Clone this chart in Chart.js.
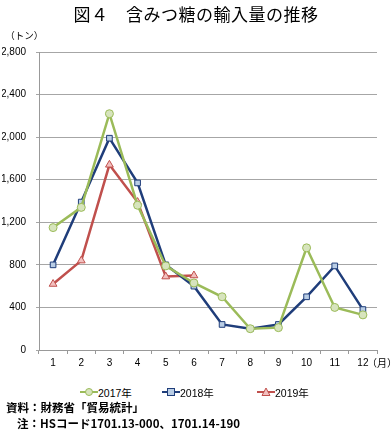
<!DOCTYPE html>
<html>
<head>
<meta charset="utf-8">
<script src="https://cdn.jsdelivr.net/npm/chart.js@4"></script>
<style>
  body { margin: 0; background: #fff; }
  #wrap { position: relative; width: 392px; height: 430px; font-family: "Noto Sans CJK JP", sans-serif; color: #000; }
  #chartBox { position: absolute; left: 0; top: 0; width: 392px; height: 380px; }
  .txt { position: absolute; white-space: nowrap; }
  #title { left: 0; width: 392px; top: 1px; text-align: center; font-size: 17px; font-weight: 400; letter-spacing: 0.5px; }
  #unit { left: 10px; top: 28px; font-size: 9.5px; font-feature-settings: "halt"; }
  #month { left: 372px; top: 355px; font-size: 10px; font-feature-settings: "halt"; }
  #legend { left: 0; top: 384px; width: 392px; height: 16px; font-size: 10.5px; }
  .item { position: absolute; top: 0; display: flex; align-items: center; height: 16px; }
  .item span { font-family: "Liberation Sans", "Noto Sans CJK JP", sans-serif; }
  #src1 { left: 6px; top: 399px; font-size: 11.5px; font-weight: 700; }
  #src2 { left: 17px; top: 415px; font-size: 11.5px; font-weight: 700; }
</style>
</head>
<body>
<div id="wrap">
  <div id="chartBox"><canvas id="importChart"></canvas></div>
  <div class="txt" id="title">図４　含みつ糖の輸入量の推移</div>
  <div class="txt" id="unit">（トン）</div>
  <div class="txt" id="month">（月）</div>
  <div class="txt" id="legend"></div>
  <div class="txt" id="src1">資料：財務省「貿易統計」</div>
  <div class="txt" id="src2">注：HSコード1701.13-000、1701.14-190</div>
</div>
<script>
const months = ['1', '2', '3', '4', '5', '6', '7', '8', '9', '10', '11', '12'];
const seriesNames = ['2017年', '2018年', '2019年'];
const imports2017 = [1150, 1340, 2220, 1360, 790, 630, 500, 200, 210, 960, 400, 330];
const imports2018 = [800, 1390, 1990, 1570, 800, 600, 240, 200, 240, 500, 790, 380];
const imports2019 = [620, 840, 1740, 1390, 690, 700];
const yTicks = [0, 400, 800, 1200, 1600, 2000, 2400, 2800];

const lineColors = ['#9bbb59', '#1f3d7a', '#c0504d'];
const fillColors = ['#d7e4bd', '#b9cde5', '#f2c0bf'];
const markers = ['circle', 'rect', 'triangle'];
const legendX = [80, 162, 257];

document.addEventListener("DOMContentLoaded", function() {
    const ctx = document.getElementById('importChart').getContext('2d');
    const allData = [imports2017, imports2018, imports2019];

    const datasets = allData.map(function(values, i) {
        return {
            label: seriesNames[i],
            data: values,
            borderColor: lineColors[i],
            backgroundColor: fillColors[i],
            pointBackgroundColor: fillColors[i],
            pointBorderColor: lineColors[i],
            pointBorderWidth: 1,
            pointStyle: markers[i],
            pointRadius: i === 2 ? 4.5 : 4,
            borderWidth: 2.5,
            tension: 0,
            fill: false
        };
    });

    new Chart(ctx, {
        type: 'line',
        data: { labels: months, datasets: datasets },
        options: {
            responsive: true,
            maintainAspectRatio: false,
            animation: false,
            layout: { padding: { left: 2, right: 15, top: 52, bottom: 10 } },
            plugins: {
                legend: { display: false },
                tooltip: { enabled: false }
            },
            scales: {
                x: {
                    offset: true,
                    grid: {
                        offset: true,
                        drawOnChartArea: false,
                        drawTicks: true,
                        tickLength: 4,
                        color: '#999999'
                    },
                    border: { color: '#999999', width: 1 },
                    ticks: {
                        color: '#000',
                        padding: 3,
                        font: { family: '"Liberation Sans", Arial, sans-serif', size: 10 }
                    },
                    afterFit: function(scale) { scale.height = 20; }
                },
                y: {
                    min: 0,
                    max: 2800,
                    afterBuildTicks: function(scale) {
                        scale.ticks = yTicks.map(v => ({ value: v }));
                    },
                    grid: {
                        color: '#a6a6a6',
                        tickLength: 3,
                        lineWidth: 1
                    },
                    border: { color: '#999999', width: 1 },
                    ticks: {
                        color: '#000',
                        padding: 10,
                        font: { family: '"Liberation Sans", Arial, sans-serif', size: 10 },
                        callback: function(value) { return value.toLocaleString('en-US'); }
                    },
                    afterFit: function(scale) { scale.width = 37; }
                }
            }
        }
    });

    // legend drawn in HTML, Excel style: short line with the marker on it
    const legend = document.getElementById('legend');
    seriesNames.forEach(function(name, i) {
        const item = document.createElement('div');
        item.className = 'item';
        item.style.left = legendX[i] + 'px';
        let mark = '';
        if (markers[i] === 'circle') {
            mark = '<circle cx="9" cy="8" r="3.5" fill="' + fillColors[i] + '" stroke="' + lineColors[i] + '" stroke-width="1"/>';
        } else if (markers[i] === 'rect') {
            mark = '<rect x="5.5" y="4.5" width="7" height="7" fill="' + fillColors[i] + '" stroke="' + lineColors[i] + '" stroke-width="1"/>';
        } else {
            mark = '<polygon points="9,4 13,11.5 5,11.5" fill="' + fillColors[i] + '" stroke="' + lineColors[i] + '" stroke-width="1"/>';
        }
        item.innerHTML = '<svg width="18" height="16"><line x1="0" y1="8" x2="18" y2="8" stroke="' + lineColors[i] + '" stroke-width="2"/>' + mark + '</svg><span>' + name + '</span>';
        legend.appendChild(item);
    });
});
</script>
</body>
</html>
